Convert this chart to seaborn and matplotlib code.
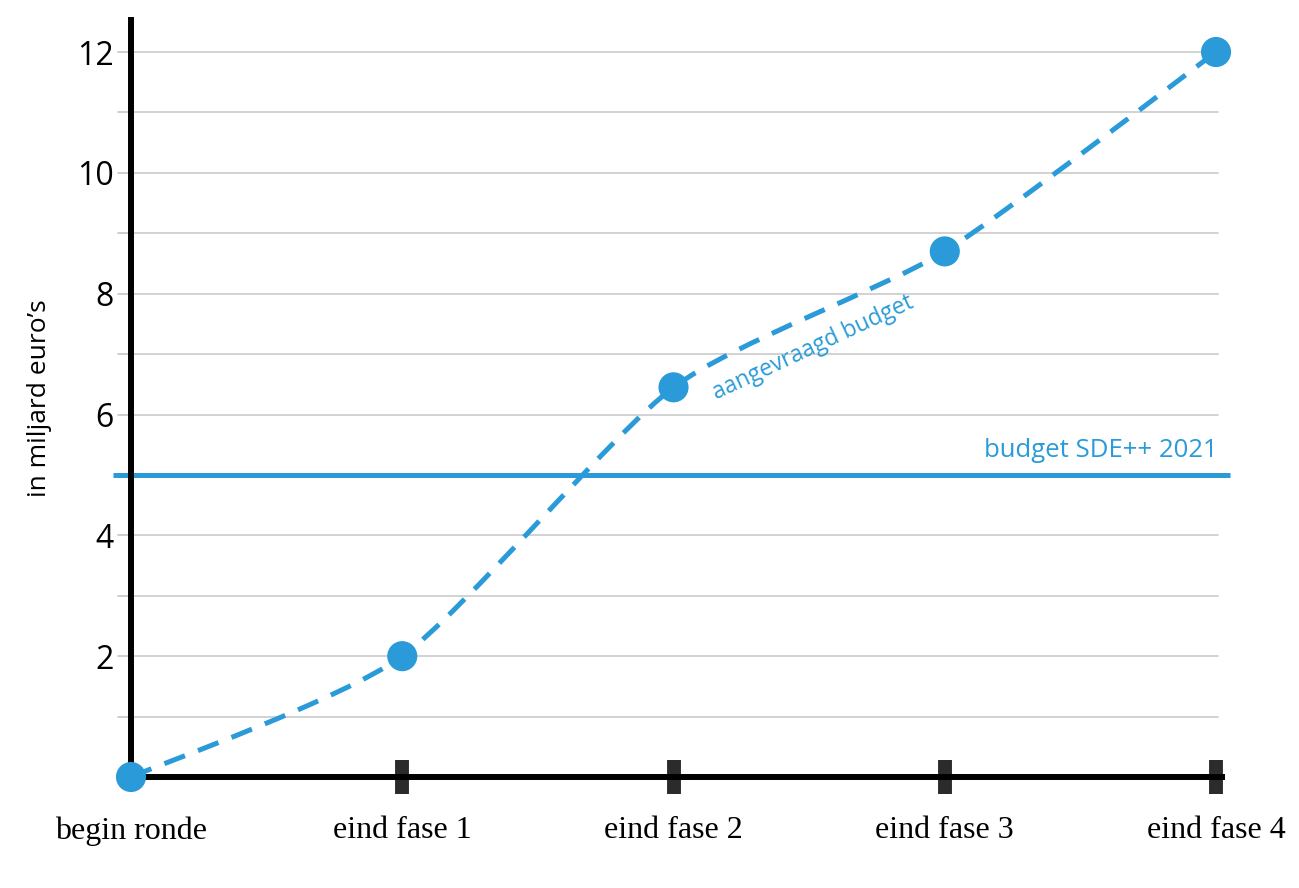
import numpy as np
import pandas as pd
import seaborn as sns
import matplotlib.pyplot as plt
from matplotlib.path import Path
from matplotlib.patches import PathPatch

# Data
stages = ["begin ronde", "eind fase 1", "eind fase 2", "eind fase 3", "eind fase 4"]
requested = [0.0, 2.0, 6.45, 8.7, 12.0]   # aangevraagd budget (miljard euro)
budget_2021 = 5.0                          # budget SDE++ 2021
y_major = [2, 4, 6, 8, 10, 12]
y_minor = [1, 3, 5, 7, 9, 11]

blue = "#2a9bd8"
grid_grey = "#cfcfcf"

sns.set_style("white")
plt.rcParams["font.family"] = ["Open Sans", "DejaVu Sans"]
plt.rcParams["text.color"] = "black"

df = pd.DataFrame({"pos": np.arange(len(stages)), "value": requested})

fig = plt.figure(figsize=(12.99, 8.88), dpi=100)
ax = fig.add_axes([131 / 1299, 0.125, 1091 / 1299, 757 / 888])

# Horizontal grid lines at every unit, slightly extending left of the axis
for yv in y_major + y_minor:
    if yv == budget_2021:
        continue
    ax.plot([-0.048, 4.007], [yv, yv], color=grid_grey, lw=1.3, zorder=1, clip_on=False)

# Budget line
ax.plot([-0.066, 4.05], [budget_2021, budget_2021], color=blue, lw=3.6,
        zorder=2, clip_on=False, solid_capstyle="butt")
ax.text(4.007, budget_2021 + 0.2, "budget SDE++ 2021", color=blue, fontsize=18.5,
        ha="right", va="bottom")

# Smooth dashed curve through the points (cardinal spline as cubic Bezier)
pts = df[["pos", "value"]].to_numpy(dtype=float)
ext = np.vstack([pts[0], pts, pts[-1]])
verts = [tuple(pts[0])]
codes = [Path.MOVETO]
for i in range(1, len(ext) - 2):
    p0, p1, p2, p3 = ext[i - 1], ext[i], ext[i + 1], ext[i + 2]
    c1 = p1 + (p2 - p0) / 9.0
    c2 = p2 - (p3 - p1) / 9.0
    verts += [tuple(c1), tuple(c2), tuple(p2)]
    codes += [Path.CURVE4] * 3
curve = PathPatch(Path(verts, codes), fill=False, edgecolor=blue, lw=3.6,
                  linestyle=(0, (4.4, 2.8)), capstyle="butt", zorder=4)
curve.set_clip_on(False)
ax.add_patch(curve)

sns.scatterplot(data=df, x="pos", y="value", ax=ax, s=470, color=blue,
                edgecolor="none", linewidth=0, zorder=6, legend=False)
for c in ax.collections:
    c.set_clip_on(False)

ax.text(2.16, 6.25, "aangevraagd budget", color=blue, fontsize=16.5,
        rotation=25, rotation_mode="anchor", ha="left", va="baseline")

# Axes styling
ax.set_xlim(0, 4.022)
ax.set_ylim(0, 12.53)
for side in ["top", "right"]:
    ax.spines[side].set_visible(False)
for side in ["left", "bottom"]:
    ax.spines[side].set_linewidth(4.3)
    ax.spines[side].set_color("black")
    ax.spines[side].set_zorder(3)

ax.set_xticks(df["pos"])
ax.set_xticklabels(stages, family=["Liberation Serif", "DejaVu Serif"], fontsize=23)
ax.tick_params(axis="x", bottom=True, direction="inout", length=24.5, width=10,
               color="#2b2b2b", labelcolor="black", pad=16)
ax.xaxis.get_major_ticks()[0].tick1line.set_visible(False)

ax.set_yticks(y_major)
ax.set_yticks(y_minor, minor=True)
ax.set_yticklabels([str(v) for v in y_major], fontsize=23)
ax.tick_params(axis="y", which="both", left=True, direction="out", length=9.5,
               width=1.3, color=grid_grey, labelcolor="black", pad=3)
ax.set_xlabel("")
ax.set_ylabel("in miljard euro\u2019s", fontsize=19, color="black", labelpad=18)

fig.savefig("out.png", dpi=100)
